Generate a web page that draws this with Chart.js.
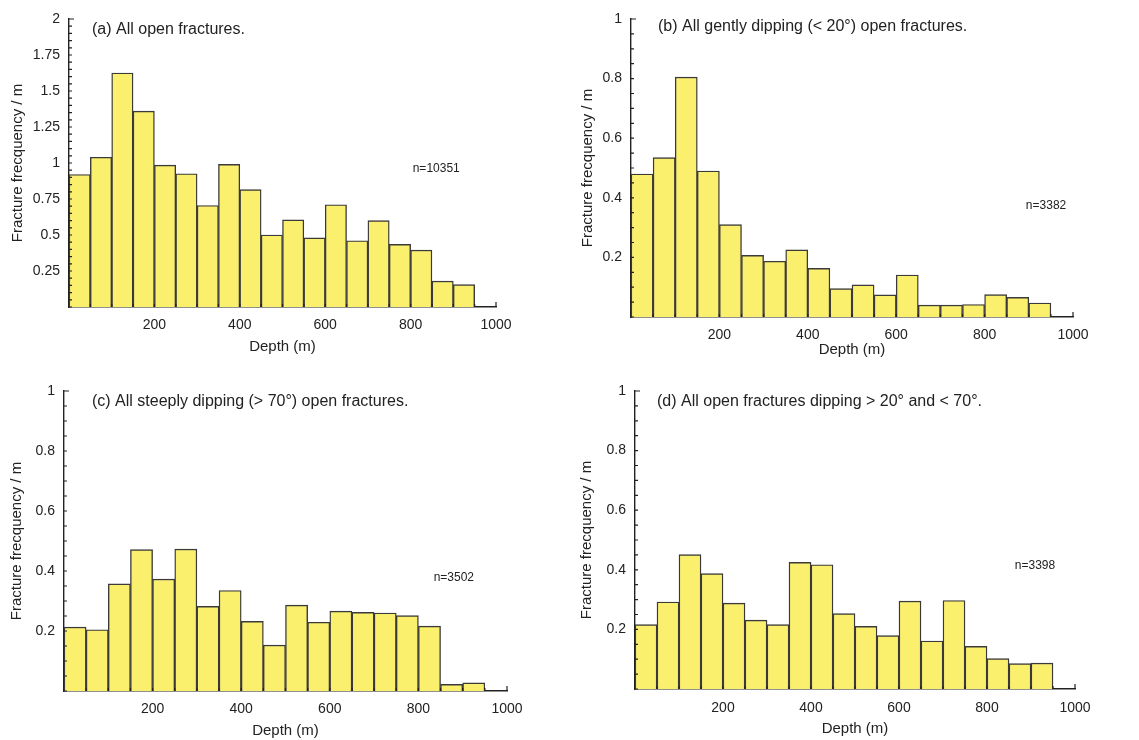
<!DOCTYPE html>
<html>
<head>
<meta charset="utf-8">
<script src="https://cdn.jsdelivr.net/npm/chart.js@4.4.1/dist/chart.umd.min.js"></script>
<style>
  html,body{margin:0;padding:0;background:#fff;}
  #wrap{position:relative;width:1139px;height:740px;overflow:hidden;}
  canvas{position:absolute;}
</style>
</head>
<body>
<div id="wrap">
  <canvas id="pa" width="570" height="370" style="left:0;top:0"></canvas>
  <canvas id="pb" width="569" height="370" style="left:570px;top:0"></canvas>
  <canvas id="pc" width="570" height="370" style="left:0;top:370px"></canvas>
  <canvas id="pd" width="569" height="370" style="left:570px;top:370px"></canvas>
</div>
<script>
// bin centres (m), 50 m bins from 0 to 950
const depthBins = [25,75,125,175,225,275,325,375,425,475,525,575,625,675,725,775,825,875,925];

// fracture frequency per metre
const freqAll     = [0.92,1.04,1.625,1.36,0.985,0.925,0.705,0.99,0.815,0.50,0.605,0.48,0.71,0.46,0.60,0.435,0.395,0.18,0.155];
const freqGentle  = [0.48,0.535,0.805,0.49,0.31,0.207,0.187,0.225,0.163,0.095,0.108,0.074,0.141,0.04,0.04,0.042,0.075,0.066,0.047];
const freqSteep   = [0.213,0.204,0.357,0.471,0.373,0.473,0.282,0.335,0.232,0.153,0.286,0.229,0.266,0.262,0.26,0.251,0.216,0.022,0.027];
const freqOblique = [0.216,0.292,0.451,0.387,0.288,0.231,0.216,0.425,0.417,0.253,0.21,0.179,0.295,0.161,0.297,0.143,0.102,0.085,0.087];

const panelTitles = [
  "(a) All open fractures.",
  "(b) All gently dipping (< 20\u00B0) open fractures.",
  "(c) All steeply dipping (> 70\u00B0) open fractures.",
  "(d) All open fractures dipping > 20\u00B0 and < 70\u00B0."
];
const nLabels = ["n=10351","n=3382","n=3502","n=3398"];
const yMax = [2,1,1,1];
const yStep = [0.25,0.2,0.2,0.2];
const xLabel = "Depth (m)";
const yLabel = "Fracture frecquency / m";

Chart.defaults.font.family = "'Liberation Sans', Arial, Helvetica, sans-serif";
Chart.defaults.color = "#222";

// inward tick marks + panel title + n label
const decor = {
  id:"decor",
  afterDatasetsDraw(c, args, o){
    const {ctx, chartArea:a, scales:{x, y}} = c;
    ctx.save();
    ctx.strokeStyle = "#222";
    ctx.lineWidth = 1.2;
    ctx.beginPath();
    const ymax = y.max;
    for(let v=0; v<=ymax+1e-9; v+=o.minor){
      const py = y.getPixelForValue(v);
      const len = Math.abs(v-ymax)<1e-6 ? 5 : 3;
      ctx.moveTo(a.left, py); ctx.lineTo(a.left+len, py);
    }
    for(let v=50; v<=1000; v+=50){
      const px = x.getPixelForValue(v);
      ctx.moveTo(px, a.bottom); ctx.lineTo(px, a.bottom-(v===1000?5:3));
    }
    ctx.stroke();

    ctx.fillStyle = "#222";
    ctx.textBaseline = "middle";
    ctx.textAlign = "left";
    ctx.font = "16px 'Liberation Sans', Arial, sans-serif";
    ctx.fillText(o.title, a.left+o.tdx, a.top+o.tdy);
    ctx.textAlign = "center";
    ctx.font = "12px 'Liberation Sans', Arial, sans-serif";
    ctx.fillText(o.n, x.getPixelForValue(o.nx), y.getPixelForValue(o.ny));
    ctx.restore();
  }
};

const fmt = v => v===0 ? "" : String(+v.toFixed(2));

function makePanel(id, i, data, g){
  return new Chart(document.getElementById(id), {
    type:"bar",
    data:{
      datasets:[{
        data: depthBins.map((d,k)=>({x:d, y:data[k]})),
        backgroundColor:"#fbef6e",
        borderColor:"#3a3a3a",
        borderWidth:1.4,
        borderSkipped:"bottom",
        barPercentage:1,
        categoryPercentage:1
      }]
    },
    options:{
      responsive:false,
      animation:false,
      events:[],
      layout:{padding:{top:g.top, right:g.right, left:0, bottom:0}},
      plugins:{
        legend:{display:false},
        tooltip:{enabled:false},
        decor:{title:panelTitles[i], n:nLabels[i], nx:g.nx, ny:g.ny, tdx:g.tdx, tdy:g.tdy, minor:0.05}
      },
      scales:{
        x:{
          type:"linear", min:0, max:1000, offset:false,
          grid:{display:false},
          border:{display:true, color:"#222", width:1.4},
          ticks:{stepSize:200, callback:fmt, font:{size:14}, padding:g.xtp, maxRotation:0},
          title:{display:true, text:xLabel, font:{size:15}, padding:{top:0, bottom:g.xtb}},
          afterFit:s=>{ s.height = g.xh; }
        },
        y:{
          min:0, max:yMax[i],
          grid:{display:false},
          border:{display:true, color:"#222", width:1.4},
          ticks:{stepSize:yStep[i], callback:fmt, font:{size:14}, padding:1},
          title:{display:true, text:yLabel, font:{size:15}, padding:{top:g.ytp, bottom:0}},
          afterFit:s=>{ s.width = g.yw; }
        }
      }
    },
    plugins:[decor]
  });
}

makePanel("pa", 0, freqAll,     {top:19, right:74, xh:63, yw:69, xtp:2, xtb:14, ytp:9, nx:860, ny:0.958, tdx:23, tdy:11});
makePanel("pb", 1, freqGentle,  {top:19, right:66, xh:53, yw:61, xtp:2, xtb:11, ytp:9, nx:939, ny:0.372, tdx:27, tdy:8});
makePanel("pc", 2, freqSteep,   {top:21, right:63, xh:49, yw:64, xtp:2, xtb:0,  ytp:8, nx:880, ny:0.377, tdx:28, tdy:11});
makePanel("pd", 3, freqOblique, {top:21, right:64, xh:51, yw:65, xtp:3, xtb:2,  ytp:8, nx:909, ny:0.413, tdx:22, tdy:11});
</script>
</body>
</html>
